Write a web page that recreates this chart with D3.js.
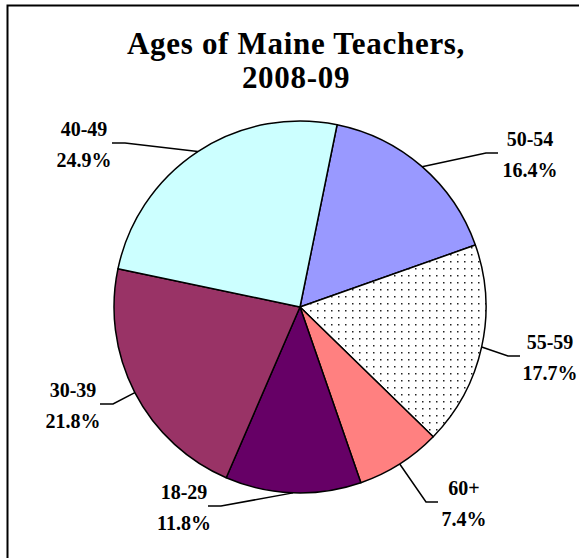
<!DOCTYPE html>
<html>
<head>
<meta charset="utf-8">
<script src="https://cdn.jsdelivr.net/npm/d3@7"></script>
<style>
  html, body { margin: 0; padding: 0; background: #fff; overflow: hidden; }
  svg { display: block; }
</style>
</head>
<body>
<svg id="chart" width="579" height="558"></svg>
<script>
// data
var categories = ['50-54', '55-59', '60+', '18-29', '30-39', '40-49'];
var shares = [16.4, 17.7, 7.4, 11.8, 21.8, 24.9];
var titleLines = ['Ages of Maine Teachers,', '2008-09'];

// slice fills (55-59 uses a dotted pattern)
var fills = {
  '50-54': '#9999ff',
  '55-59': 'url(#dots)',
  '60+': '#ff8080',
  '18-29': '#660066',
  '30-39': '#993366',
  '40-49': '#ccffff'
};

// where each label sits: text centre x, first baseline y,
// and the outer end of the short horizontal leader piece
var labelLayout = {
  '50-54': { cx: 530, y: 146, ex: 498, side: 'left' },
  '55-59': { cx: 550, y: 349, ex: 520, side: 'left' },
  '60+':   { cx: 464, y: 495, ex: 438, side: 'left' },
  '18-29': { cx: 184, y: 499, ex: 208, side: 'right' },
  '30-39': { cx: 73,  y: 397, ex: 100, side: 'right' },
  '40-49': { cx: 84,  y: 136, ex: 112, side: 'right' }
};

var svg = d3.select('#chart');

// dotted pattern
var defs = svg.append('defs');
var pat = defs.append('pattern')
  .attr('id', 'dots')
  .attr('patternUnits', 'userSpaceOnUse')
  .attr('width', 7)
  .attr('height', 7);
pat.append('rect').attr('width', 7).attr('height', 7).attr('fill', '#fff');
pat.append('rect').attr('x', 3).attr('y', 3).attr('width', 1.5).attr('height', 1.5).attr('fill', '#222');

// frame: only the top and left edges show, the rest is cropped off
svg.append('path')
  .attr('d', 'M7.5,558 V5.5 H579')
  .attr('fill', 'none')
  .attr('stroke', '#000')
  .attr('stroke-width', 2);

// title
svg.append('text')
  .attr('x', 296)
  .attr('y', 54)
  .attr('text-anchor', 'middle')
  .style('font-family', '"Liberation Serif", "Times New Roman", serif')
  .style('font-weight', 'bold')
  .style('font-size', '31px')
  .style('letter-spacing', '0.7px')
  .selectAll('tspan')
  .data(titleLines)
  .join('tspan')
  .attr('x', 296)
  .attr('dy', function(d, i) { return i === 0 ? 0 : 34; })
  .text(function(d) { return d; });

// pie
var cx = 300, cy = 307, radius = 186;
var startAngle = 11.5 * Math.PI / 180;

var pie = d3.pie()
  .sort(null)
  .value(function(d) { return d.value; })
  .startAngle(startAngle)
  .endAngle(startAngle + 2 * Math.PI);

var data = categories.map(function(c, i) { return { name: c, value: shares[i] }; });
var arcs = pie(data);

var arc = d3.arc().innerRadius(0).outerRadius(radius);

var g = svg.append('g').attr('transform', 'translate(' + cx + ',' + cy + ')');

g.selectAll('path.slice')
  .data(arcs)
  .join('path')
  .attr('class', 'slice')
  .attr('d', arc)
  .attr('fill', function(d) { return fills[d.data.name]; })
  .attr('stroke', '#000')
  .attr('stroke-width', 1.5)
  .attr('stroke-linejoin', 'round');

// leader lines: from the pie edge at the slice middle, to an elbow, then a short horizontal piece
var leaders = svg.append('g');
arcs.forEach(function(d) {
  var lay = labelLayout[d.data.name];
  var mid = (d.startAngle + d.endAngle) / 2;
  var px = cx + radius * Math.sin(mid);
  var py = cy - radius * Math.cos(mid);
  var ey = lay.y + 7;
  var elbowX = lay.side === 'left' ? lay.ex - 12 : lay.ex + 13;
  leaders.append('polyline')
    .attr('points', [[px, py], [elbowX, ey], [lay.ex, ey]].map(function(p) { return p.join(','); }).join(' '))
    .attr('fill', 'none')
    .attr('stroke', '#000')
    .attr('stroke-width', 1.5);
});

// labels
var labels = svg.append('g')
  .style('font-family', '"Liberation Serif", "Times New Roman", serif')
  .style('font-weight', 'bold')
  .style('font-size', '20px')
  .attr('fill', '#000');

arcs.forEach(function(d) {
  var lay = labelLayout[d.data.name];
  labels.append('text')
    .attr('x', lay.cx).attr('y', lay.y)
    .attr('text-anchor', 'middle')
    .text(d.data.name);
  labels.append('text')
    .attr('x', lay.cx).attr('y', lay.y + 31)
    .attr('text-anchor', 'middle')
    .text(d3.format('.1f')(d.data.value) + '%');
});
</script>
</body>
</html>
